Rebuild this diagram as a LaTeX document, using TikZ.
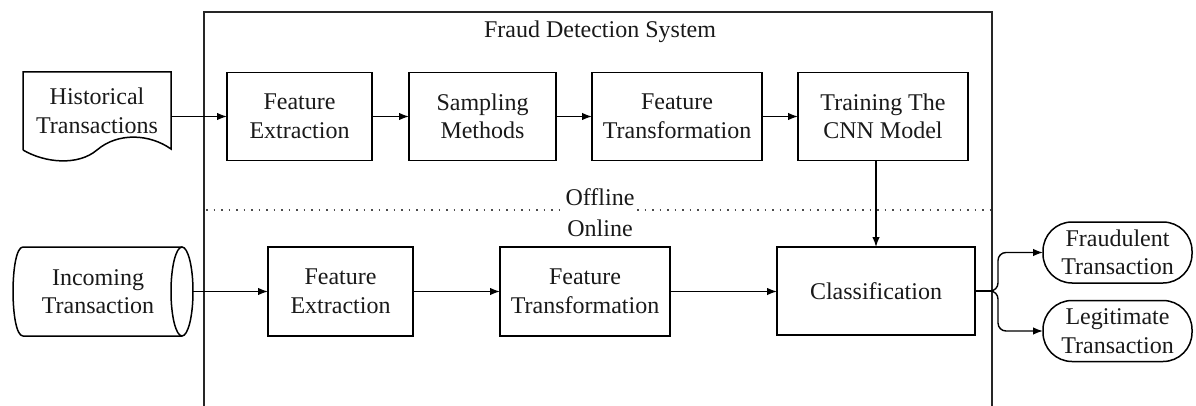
\documentclass[tikz,border=0pt]{standalone}
\usepackage{fontspec}
\setmainfont{Liberation Serif}
\usetikzlibrary{arrows.meta}
\begin{document}
\begin{tikzpicture}[x=1pt,y=-1pt,
  every node/.style={font=\fontsize{24}{28.5}\selectfont, text=black!90,
    align=center, inner sep=0pt, outer sep=0pt},
  stepbox/.style={draw, line width=1.6pt, minimum height=88pt},
  endbox/.style={draw, line width=1.5pt, rounded corners=29pt,
    minimum width=149pt, minimum height=61pt},
  outline/.style={line width=1.5pt},
  flow/.style={line width=1.4pt, -{Latex[length=10pt,width=7.5pt]}},
  sep/.style={line width=1.3pt, dash pattern=on 1.5pt off 6pt, black!70}]

  \useasboundingbox (0,0) rectangle (1196,406);

  % system frame, open at the bottom
  \draw[line width=1.5pt, black!85] (204,406) -- (204,12) -- (992,12) -- (992,406);
  \node (title) at (600,32) {Fraud Detection System};

  % offline / online separator
  \draw[sep] (206,210) -- (560,210);
  \draw[sep] (637,210) -- (990,210);
  \node (offline) at (600,197) {Offline};
  \node (online) at (600,228) {Online};

  % data sources
  \node[minimum width=148pt, minimum height=78pt] (hist) at (97,111)
    {Historical\\Transactions};
  \draw[outline] (23,150) -- (23,72) -- (171,72) -- (171,149)
    .. controls (150,134) and (118,132) .. (97,150)
    .. controls (78,166) and (45,163) .. (23,150);

  \node[minimum width=190pt, minimum height=89pt] (inc) at (98,291.5)
    {Incoming\\Transaction};
  \draw[outline] (182,247) -- (23,247)
    .. controls (9.7,247) and (9.7,336) .. (23,336) -- (182,336);
  \draw[outline] (182,291.5) ellipse [x radius=11pt, y radius=44.5pt];

  % offline training pipeline
  \node[stepbox, minimum width=145pt] (fe1) at (299.5,116.5) {Feature\\Extraction};
  \node[stepbox, minimum width=147pt] (sm)  at (482.5,116.5) {Sampling\\Methods};
  \node[stepbox, minimum width=170pt] (ft1) at (677,116.5) {Feature\\Transformation};
  \node[stepbox, minimum width=170pt] (tr)  at (883,116.5) {Training The\\CNN Model};

  % online pipeline
  \node[stepbox, minimum width=145pt, minimum height=89pt] (fe2) at (340.5,291.5) {Feature\\Extraction};
  \node[stepbox, minimum width=170pt, minimum height=89pt] (ft2) at (585,291.5) {Feature\\Transformation};
  \node[stepbox, minimum width=198pt] (cls) at (876,291) {Classification};

  % outcomes
  \node[endbox] (fraud) at (1117.5,252.5) {Fraudulent\\Transaction};
  \node[endbox] (legit) at (1117.5,331) {Legitimate\\Transaction};

  % connectors
  \draw[flow] (fe1.west -| hist.east) -- (fe1.west);
  \draw[flow] (fe1.east) -- (sm.west);
  \draw[flow] (sm.east) -- (ft1.west);
  \draw[flow] (ft1.east) -- (tr.west);
  \draw[flow] (cls.north |- tr.south) -- (cls.north);

  \draw[flow] (inc.east) -- (fe2.west);
  \draw[flow] (fe2.east) -- (ft2.west);
  \draw[flow] (ft2.east) -- (ft2.east -| cls.west);

  \coordinate (split) at (991,291);
  \draw[line width=1.4pt] (cls.east) -- (split);
  \draw[flow, rounded corners=8pt] (split) -- (998,291) -- (998,252.5) -- (fraud.west);
  \draw[flow, rounded corners=8pt] (split) -- (998,291) -- (998,331) -- (legit.west);
\end{tikzpicture}
\end{document}
